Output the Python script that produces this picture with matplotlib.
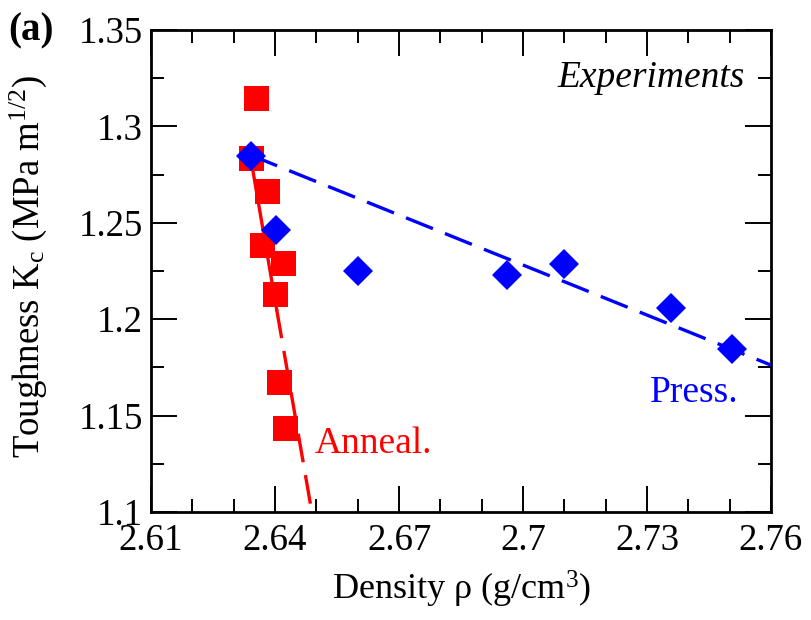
import matplotlib
matplotlib.use('Agg')
import matplotlib.pyplot as plt
from matplotlib.ticker import MultipleLocator, FuncFormatter

plt.rcParams['font.family'] = ['Liberation Serif', 'DejaVu Serif']
plt.rcParams['mathtext.fontset'] = 'custom'
plt.rcParams['mathtext.rm'] = 'Liberation Serif'
plt.rcParams['mathtext.it'] = 'Liberation Serif:italic'
plt.rcParams['mathtext.bf'] = 'Liberation Serif:bold'

# annealed samples (red squares)
anneal_density = [2.6353, 2.6341, 2.6380, 2.6369, 2.6420, 2.6399, 2.6410, 2.6424]
anneal_kc = [1.3149, 1.2836, 1.2663, 1.2385, 1.2290, 1.2131, 1.1673, 1.1436]

# pressed samples (blue diamonds)
press_density = [2.6341, 2.6402, 2.6600, 2.6961, 2.7100, 2.7358, 2.7505]
press_kc = [1.2846, 1.2463, 1.2250, 1.2229, 1.2286, 1.2060, 1.1847]

# linear fits: solid part + dashed extrapolation for anneal, dashed for press
anneal_fit_density = [2.6340, 2.6404, 2.6489]
anneal_fit_kc = [1.2852, 1.2050, 1.1000]
press_fit_density = [2.6340, 2.7600]
press_fit_kc = [1.2852, 1.1762]

xticks = [2.61, 2.64, 2.67, 2.70, 2.73, 2.76]
yticks = [1.10, 1.15, 1.20, 1.25, 1.30, 1.35]

fig = plt.figure(figsize=(8.12, 6.2), dpi=100)
ax = fig.add_axes([0.186, 0.1742, 0.7635, 0.7774])

ax.plot(anneal_density, anneal_kc, 's', color='#ff0000', markersize=18,
        markeredgewidth=0, zorder=2)
ax.plot(anneal_fit_density[:2], anneal_fit_kc[:2], '-', color='#ff0000', lw=2.4, zorder=3)
red_dash, = ax.plot(anneal_fit_density[1:], anneal_fit_kc[1:], color='#ff0000', lw=2.4, zorder=3)
red_dash.set_dashes((8.7, 3.9))
blue_dash, = ax.plot(press_fit_density, press_fit_kc, color='#0000ff', lw=2.4, zorder=4)
blue_dash.set_dashes((8.7, 3.9))
ax.plot(press_density, press_kc, 'D', color='#0000ff', markersize=14.8,
        markeredgewidth=0, zorder=5)

ax.set_xlim(2.61, 2.76)
ax.set_ylim(1.1, 1.35)
ax.set_xticks(xticks)
ax.set_yticks(yticks)
ax.xaxis.set_minor_locator(MultipleLocator(0.01))
ax.yaxis.set_minor_locator(MultipleLocator(0.025))
fmt = FuncFormatter(lambda v, p: '%g' % round(v, 3))
ax.xaxis.set_major_formatter(fmt)
ax.yaxis.set_major_formatter(fmt)

ax.tick_params(which='both', direction='in', top=True, right=True, width=1.4,
               labelsize=26.5)
ax.tick_params(which='major', length=19)
ax.tick_params(which='minor', length=9.5)
ax.tick_params(axis='x', which='major', pad=8)
ax.tick_params(axis='y', which='major', pad=6)
for s in ax.spines.values():
    s.set_linewidth(2)

ax.set_xlabel('Density \u03c1 (g/cm$^{3}$)', fontsize=26)
ax.set_ylabel('Toughness K$_\\mathrm{c}$ (MPa m$^{1/2}$)', fontsize=26.5)
ax.xaxis.set_label_coords(0.5, -0.118)
ax.yaxis.set_label_coords(-0.165, 0.51)

ax.text(0.958, 0.900, 'Experiments', style='italic', fontsize=27,
        ha='right', va='center', transform=ax.transAxes)
ax.text(0.2645, 0.122, 'Anneal.', color='#ff0000', fontsize=27,
        ha='left', va='baseline', transform=ax.transAxes)
ax.text(0.805, 0.228, 'Press.', color='#0000ff', fontsize=27,
        ha='left', va='baseline', transform=ax.transAxes)
fig.text(0.01, 0.95, '(a)', fontweight='bold', fontsize=28, ha='left', va='center')

fig.savefig('out.png', dpi=100)
